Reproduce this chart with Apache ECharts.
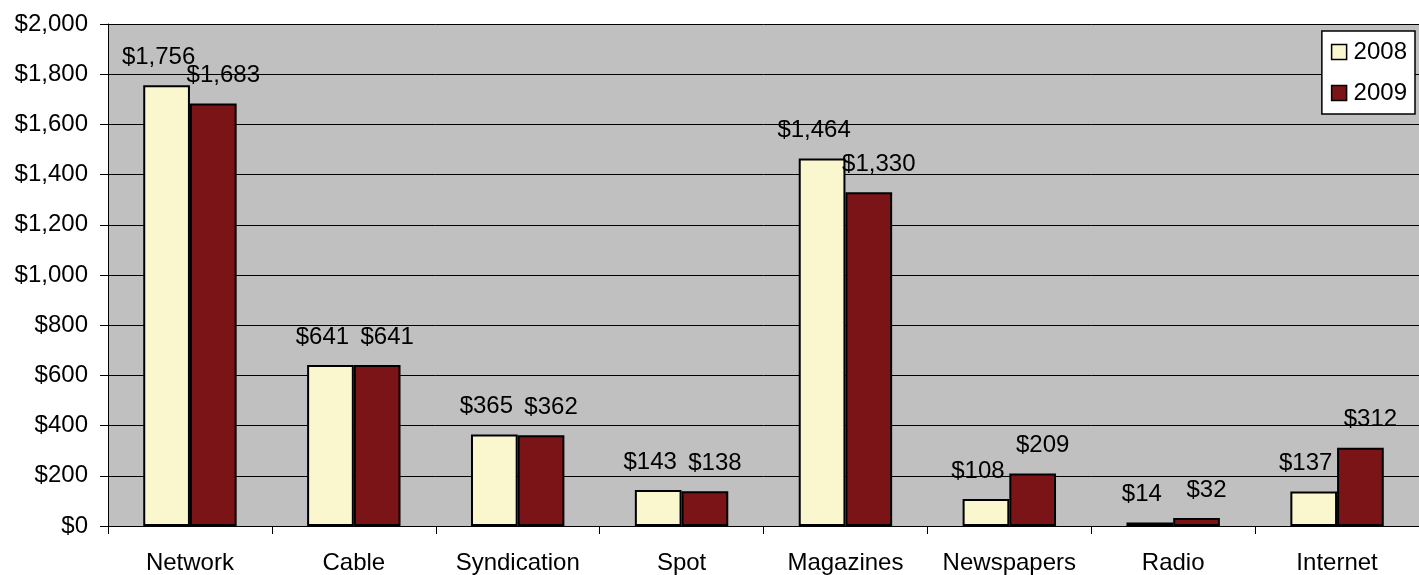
<!DOCTYPE html>
<html>
<head>
<meta charset="utf-8">
<style>
  html, body { margin: 0; padding: 0; background: #ffffff; }
  #chart { width: 1419px; height: 575px; }
</style>
<script src="https://cdn.jsdelivr.net/npm/echarts@6/dist/echarts.min.js"></script>
</head>
<body>
<div id="chart"></div>
<script>
// Ad spending by medium, in millions of dollars
const categories = ['Network', 'Cable', 'Syndication', 'Spot', 'Magazines', 'Newspapers', 'Radio', 'Internet'];
const values2008 = [1756, 641, 365, 143, 1464, 108, 14, 137];
const values2009 = [1683, 641, 362, 138, 1330, 209, 32, 312];
const seriesNames = ['2008', '2009'];

const FONT = 'Liberation Sans, Arial, sans-serif';
const money = v => '$' + Number(v).toLocaleString('en-US');

const chart = echarts.init(document.getElementById('chart'), null, { renderer: 'canvas' });

// side-by-side bars; labels nudged apart so neighbouring values don't collide
function barSeries(name, data, color, labelShift) {
  return {
    name: name,
    type: 'bar',
    data: data,
    barGap: '0%',
    barCategoryGap: '43%',
    itemStyle: { color: color, borderColor: '#000000', borderWidth: 2 },
    label: {
      show: true,
      position: 'top',
      distance: 16,
      offset: [labelShift, 0],
      color: '#000000',
      fontFamily: FONT,
      fontSize: 24,
      formatter: p => money(p.value)
    },
    emphasis: { disabled: true }
  };
}

chart.setOption({
  animation: false,
  backgroundColor: '#ffffff',
  grid: {
    left: 108, right: 0, top: 24, bottom: 48,
    show: true,
    backgroundColor: '#c0c0c0',
    borderWidth: 0
  },
  legend: {
    right: 4, top: 31,
    orient: 'vertical',
    backgroundColor: '#ffffff',
    borderColor: '#000000',
    borderWidth: 1.5,
    padding: [9, 8, 9, 9],
    itemGap: 17,
    itemWidth: 15, itemHeight: 15,
    icon: 'rect',
    textStyle: { fontFamily: FONT, fontSize: 24, color: '#000000', padding: [0, 0, 0, 2] },
    data: seriesNames.map(n => ({ name: n, itemStyle: { borderColor: '#000', borderWidth: 1.5 } }))
  },
  xAxis: {
    type: 'category',
    data: categories,
    boundaryGap: true,
    axisLine: { lineStyle: { color: '#000000', width: 1 } },
    axisTick: { show: true, length: 8, interval: 0, lineStyle: { color: '#000000' } },
    axisLabel: { interval: 0, margin: 25, fontFamily: FONT, fontSize: 24, color: '#000000' }
  },
  yAxis: {
    type: 'value',
    min: 0, max: 2000, interval: 200,
    axisLine: { show: true, lineStyle: { color: '#000000', width: 1 } },
    axisTick: { show: true, length: 8, lineStyle: { color: '#000000' } },
    axisLabel: { margin: 20, fontFamily: FONT, fontSize: 24, color: '#000000', formatter: money },
    splitLine: { show: true, lineStyle: { color: '#000000', width: 1 } }
  },
  series: [
    barSeries(seriesNames[0], values2008, '#faf7cf', -8),
    barSeries(seriesNames[1], values2009, '#7b1416', 10)
  ]
});
</script>
</body>
</html>
